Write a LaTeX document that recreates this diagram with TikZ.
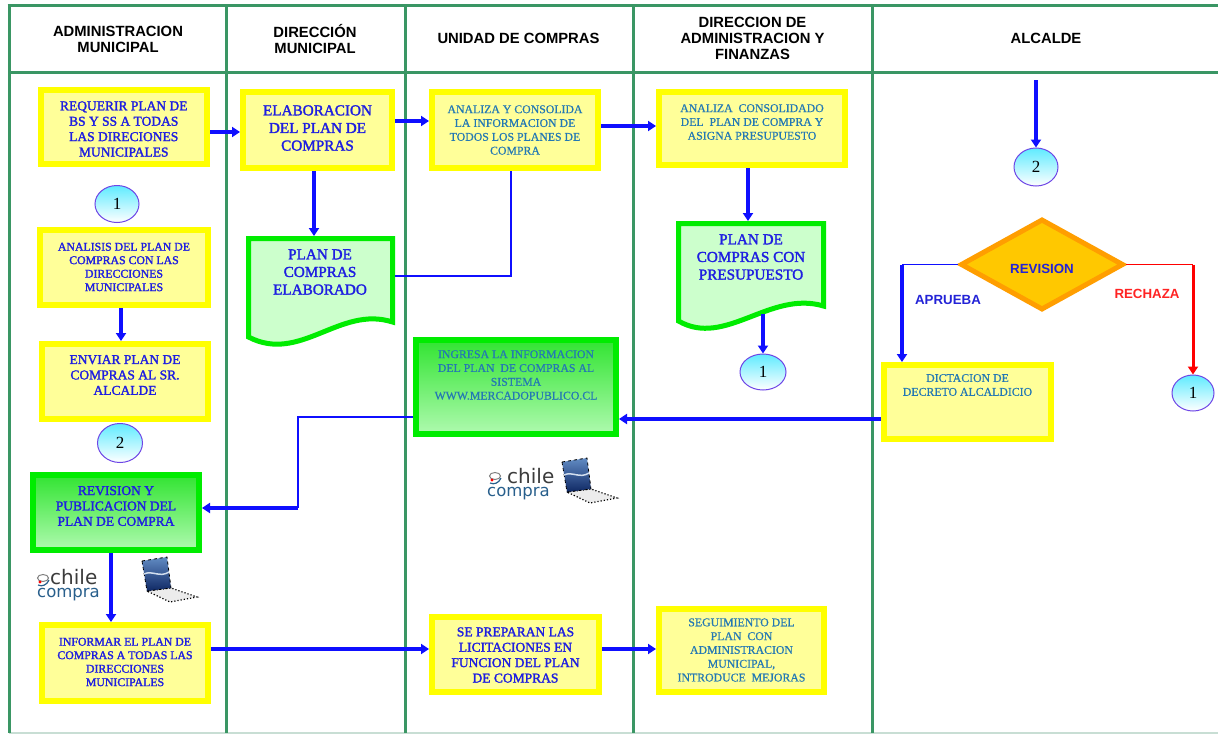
\documentclass[tikz,border=0pt]{standalone}
\usepackage{fontspec}
\setmainfont{Liberation Serif}
\newfontfamily\hdrfont{Liberation Sans}
\newfontfamily\logofont{DejaVu Sans}
\newfontfamily\fbserif[FakeBold=1.8]{Liberation Serif}
\newfontfamily\ftserif[FakeBold=0.6]{Liberation Serif}
\usetikzlibrary{arrows.meta,shapes.geometric,calc}

\definecolor{gridgreen}{RGB}{58,150,100}
\definecolor{botgray}{RGB}{200,222,212}
\definecolor{ybord}{RGB}{255,255,0}
\definecolor{yfill}{RGB}{255,255,153}
\definecolor{gbord}{RGB}{0,236,0}
\definecolor{gtop}{RGB}{50,228,50}
\definecolor{gbot}{RGB}{175,250,175}
\definecolor{docfill}{RGB}{204,255,204}
\definecolor{arrowblue}{RGB}{15,15,255}
\definecolor{textblue}{RGB}{30,30,225}
\definecolor{textteal}{RGB}{35,120,180}
\definecolor{connbord}{RGB}{110,70,230}
\definecolor{conntop}{RGB}{95,235,255}
\definecolor{diafill}{RGB}{255,200,0}
\definecolor{diabord}{RGB}{255,158,0}
\definecolor{labblue}{RGB}{35,35,215}
\definecolor{labred}{RGB}{255,35,35}
\definecolor{logogray}{RGB}{60,60,60}
\definecolor{logoblue}{RGB}{40,95,140}
\definecolor{lapblue}{RGB}{30,90,170}
\definecolor{lapdark}{RGB}{15,40,100}

\begin{document}
\begin{tikzpicture}[x=1pt,y=-1pt,
  gridl/.style={draw=gridgreen, line width=3pt},
  botl/.style={draw=botgray, line width=1.5pt},
  hdr/.style={font=\hdrfont\bfseries\fontsize{14.8}{16}\selectfont, align=center, inner sep=0pt, text=black},
  ybox/.style={draw=ybord, fill=yfill, line width=6pt, inner sep=0pt},
  gbox/.style={draw=gbord, top color=gtop, bottom color=gbot, line width=6pt, inner sep=0pt},
  docs/.style={draw=gbord, fill=docfill, line width=5pt, line join=miter},
  btxt/.style={text=textblue, align=center, inner sep=0pt},
  ttxt/.style={text=textteal, align=center, inner sep=0pt},
  fs/.style={font=\fbserif\fontsize{11.8}{13.5}\selectfont},
  fsr/.style={font=\ftserif\fontsize{11.8}{13.8}\selectfont},
  fm/.style={font=\fbserif\fontsize{13.5}{15.4}\selectfont},
  fl/.style={font=\fbserif\fontsize{15.2}{17.6}\selectfont},
  conn/.style={ellipse, draw=connbord, line width=1pt, top color=conntop, bottom color=white, inner sep=0pt, font=\rmfamily\fontsize{17}{17}\selectfont, text=black},
  dia/.style={diamond, draw=diabord, fill=diafill, line width=5pt, inner sep=0pt},
  lab/.style={font=\hdrfont\bfseries\fontsize{13.3}{14}\selectfont, inner sep=0pt},
  arr/.style={draw=arrowblue, line width=3.2pt, -{Triangle[length=8pt,width=10pt]}},
  arrR/.style={draw=red, line width=3pt, -{Triangle[length=8pt,width=10pt]}},
  thinl/.style={draw=arrowblue, line width=1.5pt},
  thinr/.style={draw=red, line width=1.5pt},
  logo/.style={font=\logofont\fontsize{16.5}{13}\selectfont, align=left, inner sep=0pt, anchor=north west},
  screen/.style={top color=lapblue!70!white, bottom color=lapdark, draw=black, line width=0.8pt, dashed},
  base/.style={fill=gray!15, draw=black, line width=1.2pt, dotted}
]
\useasboundingbox (0,0) rectangle (1218,736);
\fill[white] (0,0) rectangle (1218,736);

% ---------------- grid ----------------
\draw[botl] (9,733) -- (1218,733);
\draw[gridl] (7.5,5) -- (1218,5);
\draw[gridl] (9,72) -- (1218,72);
\foreach \xx in {9,226.5,405,633,872.5} \draw[gridl] (\xx,5) -- (\xx,733);

% ---------------- headers ----------------
\node[hdr] (h1) at (118,39) {ADMINISTRACION\\MUNICIPAL};
\node[hdr] (h2) at (315,39) {DIRECCIÓN\\MUNICIPAL};
\node[hdr] (h3) at (518.5,38) {UNIDAD DE COMPRAS};
\node[hdr] (h4) at (752.5,38) {DIRECCION DE\\ADMINISTRACION Y\\FINANZAS};
\node[hdr] (h5) at (1046,38) {ALCALDE};

% ---------------- boxes ----------------
\node[ybox, minimum width=166.5pt, minimum height=74pt] (b1) at (123.75,127) {};
\node[btxt,fm] (t1) at (123.75,129) {REQUERIR PLAN DE\\BS Y SS A TODAS\\LAS DIRECIONES\\MUNICIPALES};

\node[ybox, minimum width=168pt, minimum height=75pt] (b2) at (124,267.5) {};
\node[btxt,fs] (t2) at (124,267) {ANALISIS DEL PLAN DE\\COMPRAS CON LAS\\DIRECCIONES\\MUNICIPALES};

\node[ybox, minimum width=166pt, minimum height=75pt] (b3) at (125,381.5) {};
\node[btxt,fm] (t3) at (125,375) {ENVIAR PLAN DE\\COMPRAS AL SR.\\ALCALDE};

\node[gbox, minimum width=166pt, minimum height=75pt] (b4) at (116,512.5) {};
\node[btxt,fm] (t4) at (116,506) {REVISION Y\\PUBLICACION DEL\\PLAN DE COMPRA};

\node[ybox, minimum width=166pt, minimum height=76pt] (b5) at (125,663) {};
\node[btxt,fs] (t5) at (125,662) {INFORMAR EL PLAN DE\\COMPRAS A TODAS LAS\\DIRECCIONES\\MUNICIPALES};

\node[ybox, minimum width=149pt, minimum height=76pt] (b6) at (317.5,130) {};
\node[btxt,fl] (t6) at (317.5,128) {ELABORACION\\DEL PLAN DE\\COMPRAS};

\node[ybox, minimum width=166pt, minimum height=76pt] (b7) at (515,130) {};
\node[ttxt,fsr] (t7) at (515,130) {ANALIZA Y CONSOLIDA\\LA INFORMACION DE\\TODOS LOS PLANES DE\\COMPRA};

\node[gbox, minimum width=200pt, minimum height=94pt] (b8) at (516,387) {};
\node[ttxt,fsr] (t8) at (516,375) {INGRESA LA INFORMACION\\DEL PLAN~ DE COMPRAS AL\\SISTEMA\\WWW.MERCADOPUBLICO.CL};

\node[ybox, minimum width=167pt, minimum height=75pt] (b9) at (515.5,654.5) {};
\node[btxt,fm] (t9) at (515.5,655) {SE PREPARAN LAS\\LICITACIONES EN\\FUNCION DEL PLAN\\DE COMPRAS};

\node[ybox, minimum width=186pt, minimum height=73pt] (b10) at (752,128.5) {};
\node[ttxt,fsr] (t10) at (752,122) {ANALIZA~ CONSOLIDADO\\DEL~ PLAN DE COMPRA Y\\ASIGNA PRESUPUESTO};

\node[ybox, minimum width=165pt, minimum height=83pt] (b11) at (741.5,650.5) {};
\node[ttxt,fsr] (t11) at (741.5,650) {SEGUIMIENTO DEL\\PLAN~ CON\\ADMINISTRACION\\MUNICIPAL,\\INTRODUCE~ MEJORAS};

\node[ybox, minimum width=167pt, minimum height=74pt] (b12) at (967.5,402) {};
\node[ttxt,fsr] (t12) at (967.5,385) {DICTACION DE\\DECRETO ALCALDICIO};

% ---------------- documents ----------------
\draw[docs] (248.5,238.5) -- (392.5,238.5) -- (392.5,322) .. controls (340,305) and (300,364) .. (248.5,337) -- cycle;
\node[btxt,fl] (d1t) at (320,272) {PLAN DE\\COMPRAS\\ELABORADO};
\coordinate (d1n) at (314,236);
\coordinate (d1e) at (395,276);

\draw[docs] (678.5,223.5) -- (823.5,223.5) -- (823.5,306) .. controls (770,290) and (725,348) .. (678.5,321) -- cycle;
\node[btxt,fl] (d2t) at (751,257) {PLAN DE\\COMPRAS CON\\PRESUPUESTO};
\coordinate (d2n) at (748,221);
\coordinate (d2s) at (763,314);

% ---------------- connectors ----------------
\node[conn, minimum width=44pt, minimum height=37pt] (c1a) at (117,204) {1};
\node[conn, minimum width=45pt, minimum height=39pt] (c2a) at (120,443) {2};
\node[conn, minimum width=46pt, minimum height=36pt] (c1b) at (763,372) {1};
\node[conn, minimum width=44pt, minimum height=38pt] (c2b) at (1036,167) {2};
\node[conn, minimum width=42pt, minimum height=36pt] (c1c) at (1193,393) {1};
\coordinate (c2src) at (1036,80);

% ---------------- decision ----------------
\node[dia, minimum width=163pt, minimum height=91pt] (dia) at (1042,264.5) {};
\node[lab, text=labblue] (rv) at (1042,269) {REVISION};
\node[lab, text=labblue] (ap) at (948,300) {APRUEBA};
\node[lab, text=labred] (re) at (1147,294) {RECHAZA};

% ---------------- arrows ----------------
\draw[arr] (b1.east |- 0,132) -- (b6.west |- 0,132);
\draw[arr] (b6.east |- 0,121) -- (b7.west |- 0,121);
\draw[arr] (b7.east |- 0,126) -- (b10.west |- 0,126);
\draw[arr] (b6.south -| d1n) -- (d1n);
\draw[arr] (b10.south -| d2n) -- (d2n);
\draw[arr] (d2s) -- (c1b.north);
\draw[arr] (b2.south -| 121,0) -- (b3.north -| 121,0);
\draw[arr] (b4.south -| 111,0) -- (b5.north -| 111,0);
\draw[arr] (b5.east |- 0,649) -- (b9.west |- 0,649);
\draw[arr] (b9.east |- 0,649) -- (b11.west |- 0,649);
\draw[arr] (c2src) -- (c2b.north);
\draw[thinl] (dia.west) -- (dia.west -| 902,0);
\draw[arr] (dia.west -| 902,0) -- (b12.north -| 902,0);
\draw[thinr] (dia.east) -- (dia.east -| c1c.north);
\draw[arrR] (dia.east -| c1c.north) -- (c1c.north);
\draw[arr] (b12.west |- 0,419) -- (b8.east |- 0,419);
\draw[thinl] (b7.south -| 511,0) -- (511,276) -- (d1e);
\draw[thinl] (b8.west |- 0,417) -- (298,417) -- (298,508);
\draw[arr] (298,508) -- (b4.east |- 0,508);

% ---------------- chilecompra logos & laptops ----------------
\draw[gray, line width=1pt] (43,578) ellipse (5.5 and 3.5);
\fill[red] (40,582) circle (1.6);
\draw[logoblue, line width=1.2pt] (38,585) .. controls (42,587) and (47,585) .. (49,580);
\node[logo] (logo1) at (37,569.5) {\hspace*{13pt}{\color{logogray}\fontsize{20}{13}\selectfont chile}\\{\color{logoblue}compra}};

\draw[gray, line width=1pt] (495,476) ellipse (5.5 and 3.5);
\fill[red] (492,480) circle (1.6);
\draw[logoblue, line width=1.2pt] (490,483) .. controls (494,485) and (499,483) .. (501,478);
\node[logo] (logo2) at (487,468.5) {\hspace*{20pt}{\color{logogray}\fontsize{20}{13}\selectfont chile}\\{\color{logoblue}compra}};

\draw[base] (147,591) -- (171,588) -- (197,597) -- (170,602) -- cycle;
\draw[screen] (142,561) -- (167,557) -- (171,588) -- (147,591) -- cycle;
\draw[white!80!lapblue, line width=1.5pt] (144,574) .. controls (152,570) and (160,578) .. (169,572);

\draw[base] (567,492) -- (591,489) -- (617,498) -- (590,503) -- cycle;
\draw[screen] (562,462) -- (587,458) -- (591,489) -- (567,492) -- cycle;
\draw[white!80!lapblue, line width=1.5pt] (564,475) .. controls (572,471) and (580,479) .. (589,473);
\end{tikzpicture}
\end{document}
